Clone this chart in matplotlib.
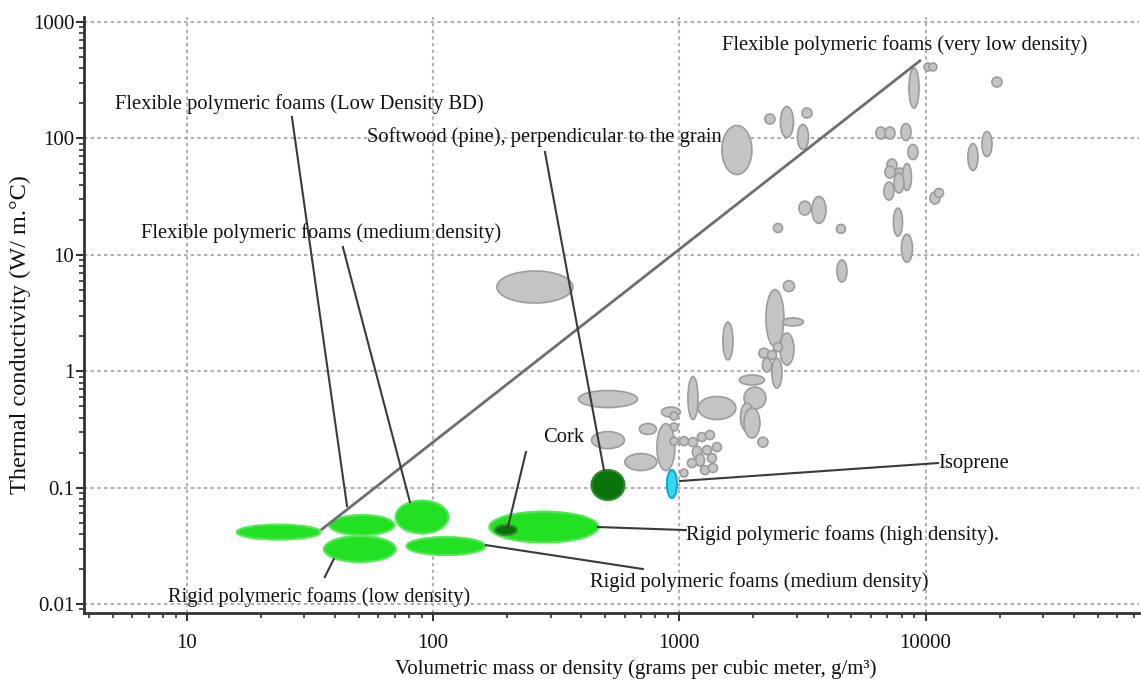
import numpy as np
import matplotlib
matplotlib.use("Agg")
import matplotlib.pyplot as plt
from matplotlib.patches import Ellipse
from matplotlib.ticker import FixedLocator, FixedFormatter, LogLocator, NullFormatter

plt.rcParams['font.family'] = ['Liberation Serif', 'DejaVu Serif']

# ---------------- data ----------------
x_ticks = [10, 100, 1000, 10000]
x_tick_labels = ["10", "100", "1000", "10000"]
y_ticks = [0.01, 0.1, 1, 10, 100, 1000]
y_tick_labels = ["0.01", "0.1", "1", "10", "100", "1000"]

# other materials (grey): centre density, centre conductivity, spread in decades
gray_density = [259, 4575, 2787, 2445, 2893, 1575, 2735, 2515, 2206, 2378,
                2269, 2491, 1972, 1136, 513, 1421, 2028, 1882, 1972, 2185,
                513, 745, 924, 951, 951, 882, 951, 1044, 698, 1044,
                1136, 1235, 1331, 1421, 1179, 1294, 1213, 1356, 1271, 1369,
                1125, 10226, 10715, 19498, 8974, 2333, 3299, 2735, 3177, 1713,
                6587, 7169, 8326, 8889, 17758, 15574, 7304, 7169, 7870, 8403,
                7796, 7101, 10919, 11335, 3236, 3690, 2515, 4532, 7724, 8403]
gray_conductivity = [5.29, 7.26, 5.39, 2.86, 2.65, 1.82, 1.55, 1.61, 1.43, 1.38,
                     1.13, 0.965, 0.840, 0.588, 0.577, 0.483, 0.588, 0.404, 0.359, 0.246,
                     0.256, 0.319, 0.446, 0.412, 0.332, 0.223, 0.251, 0.1335, 0.166, 0.251,
                     0.246, 0.272, 0.283, 0.223, 0.202, 0.210, 0.1726, 0.1796, 0.1416, 0.1474,
                     0.1627, 410.7, 410.7, 305, 271, 146.8, 165.3, 138.3, 102.8, 79.5,
                     111.3, 111.3, 113.5, 76.4, 89.5, 69.2, 59.1, 51.4, 50.4, 46.6,
                     41.4, 35.3, 30.8, 34.0, 25.2, 24.3, 17.0, 16.7, 19.1, 11.4]
gray_dspan = [0.309, 0.041, 0.045, 0.073, 0.085, 0.041, 0.057, 0.037, 0.041, 0.037,
              0.037, 0.041, 0.102, 0.041, 0.240, 0.154, 0.089, 0.053, 0.065, 0.041,
              0.134, 0.069, 0.077, 0.032, 0.032, 0.073, 0.032, 0.032, 0.130, 0.037,
              0.037, 0.037, 0.037, 0.037, 0.037, 0.037, 0.037, 0.037, 0.037, 0.037,
              0.037, 0.032, 0.032, 0.041, 0.041, 0.041, 0.041, 0.053, 0.045, 0.122,
              0.041, 0.041, 0.041, 0.041, 0.041, 0.041, 0.041, 0.041, 0.041, 0.037,
              0.041, 0.041, 0.041, 0.037, 0.049, 0.057, 0.037, 0.037, 0.037, 0.045]
gray_kspan = [0.275, 0.189, 0.094, 0.490, 0.069, 0.326, 0.275, 0.077, 0.086, 0.077,
              0.120, 0.258, 0.086, 0.369, 0.146, 0.198, 0.189, 0.241, 0.258, 0.086,
              0.146, 0.094, 0.086, 0.069, 0.069, 0.404, 0.069, 0.069, 0.146, 0.077,
              0.077, 0.077, 0.077, 0.077, 0.103, 0.077, 0.103, 0.077, 0.077, 0.077,
              0.077, 0.069, 0.069, 0.086, 0.344, 0.086, 0.086, 0.266, 0.215, 0.421,
              0.103, 0.103, 0.146, 0.129, 0.215, 0.232, 0.103, 0.103, 0.086, 0.232,
              0.172, 0.155, 0.103, 0.077, 0.120, 0.232, 0.077, 0.077, 0.241, 0.241]

# highlighted materials
hl_names = ["flex_vlow", "flex_low", "rigid_low", "flex_med", "rigid_med",
            "rigid_high", "cork", "softwood", "isoprene"]
hl_density = [23.6, 51.4, 50.4, 90.1, 112.7, 281.8, 197.6, 513, 933]
hl_conductivity = [0.0415, 0.0477, 0.0297, 0.0559, 0.0315, 0.0459, 0.0432, 0.1053, 0.1074]
hl_dspan = [0.341, 0.264, 0.292, 0.215, 0.321, 0.443, 0.089, 0.134, 0.041]
hl_kspan = [0.129, 0.172, 0.223, 0.283, 0.155, 0.266, 0.086, 0.258, 0.241]
hl_kind = ["foam", "foam", "foam", "foam", "foam", "foam", "cork", "wood", "iso"]

# diagonal guide line (very low density flexible foams)
diag_density = [35.0, 9580]
diag_conductivity = [0.0432, 471.6]

# labels: text, text position (density, conductivity), leader start, leader end
labels = ["Flexible polymeric foams (very low density)",
          "Flexible polymeric foams (Low Density BD)",
          "Softwood (pine), perpendicular to the grain",
          "Flexible polymeric foams (medium density)",
          "Cork",
          "Isoprene",
          "Rigid polymeric foams (high density).",
          "Rigid polymeric foams (medium density)",
          "Rigid polymeric foams (low density)"]
label_density = [1489, 5.10, 53.8, 6.51, 279.3, 11229, 1063, 433.5, 8.37]
label_conductivity = [634.6, 197.5, 102.8, 15.39, 0.272, 0.1627, 0.0392, 0.01545, 0.01148]
leader_d0 = [None, 26.7, 284.5, 43.0, 238.2, 1006, 467, 163.8, 36.3]
leader_k0 = [None, 152.7, 76.4, 11.67, 0.202, 0.114, 0.0459, 0.0321, 0.01706]
leader_d1 = [None, 44.7, 494, 80.5, 201.3, 11229, 1063, 711, 39.5]
leader_k1 = [None, 0.0695, 0.1416, 0.0752, 0.0459, 0.1627, 0.0432, 0.0200, 0.02435]

# ---------------- figure ----------------
fig = plt.figure(figsize=(11.41, 6.84), dpi=100)
ax = fig.add_axes([84/1141, 71/684, 1055/1141, 596/684])
ax.set_xscale('log')
ax.set_yscale('log')
ax.set_xlim(3.82, 73600)
ax.set_ylim(0.00838, 1104)

ax.grid(False)
for v in x_ticks:
    ax.axvline(v, color='#b0b0b0', lw=1.5, ls=(0, (1.6, 1.6)), zorder=0)
for v in y_ticks:
    ax.axhline(v, color='#b0b0b0', lw=1.5, ls=(0, (1.6, 1.6)), zorder=0)

logtrans = ax.transLimits + ax.transAxes  # coordinates in decades

for d, k, wd, hk in zip(gray_density, gray_conductivity, gray_dspan, gray_kspan):
    ax.add_patch(Ellipse((np.log10(d), np.log10(k)), wd, hk, transform=logtrans,
                         facecolor='#c4c4c4', edgecolor='#9c9c9c', lw=1.2, zorder=2))

styles = {"foam": ('#22e022', '#55e855'),
          "cork": ('#0b6e0b', '#2f8f2f'),
          "wood": ('#0a730a', '#2c8c2c'),
          "iso": ('#30d8f2', '#1aa6c6')}
for d, k, wd, hk, kind in zip(hl_density, hl_conductivity, hl_dspan, hl_kspan, hl_kind):
    fc, ec = styles[kind]
    ax.add_patch(Ellipse((np.log10(d), np.log10(k)), wd, hk, transform=logtrans,
                         facecolor=fc, edgecolor=ec, lw=1.5, zorder=3))

ax.plot(diag_density, diag_conductivity, color='#6e6e6e', lw=2, zorder=4,
        solid_capstyle='butt')

for t, ld, lk, d0, k0, d1, k1 in zip(labels, label_density, label_conductivity,
                                     leader_d0, leader_k0, leader_d1, leader_k1):
    if d0 is not None:
        ax.plot([d0, d1], [k0, k1], color='#3a3a3a', lw=1.5, zorder=5)
    ax.text(ld, lk, t, ha='left', va='center', fontsize=14.8, color='#111111',
            zorder=6)

# axes styling
for s in ['top', 'right']:
    ax.spines[s].set_visible(False)
for s in ['left', 'bottom']:
    ax.spines[s].set_color('#333333')
    ax.spines[s].set_linewidth(2)

ax.xaxis.set_major_locator(FixedLocator(x_ticks))
ax.xaxis.set_major_formatter(FixedFormatter(x_tick_labels))
ax.yaxis.set_major_locator(FixedLocator(y_ticks))
ax.yaxis.set_major_formatter(FixedFormatter(y_tick_labels))
ax.xaxis.set_minor_locator(LogLocator(base=10, subs=np.arange(2, 10)))
ax.yaxis.set_minor_locator(LogLocator(base=10, subs=np.arange(2, 10)))
ax.xaxis.set_minor_formatter(NullFormatter())
ax.yaxis.set_minor_formatter(NullFormatter())
ax.tick_params(axis='both', which='major', direction='out', length=6, width=1.5,
               color='#333333', labelsize=15, labelcolor='#111111')
ax.tick_params(axis='both', which='minor', direction='out', length=3.5, width=1.2,
               color='#333333')
ax.tick_params(axis='x', which='major', pad=9)
ax.tick_params(axis='y', which='major', pad=1)

fig.text(636/1141, 1 - 669/684,
         "Volumetric mass or density (grams per cubic meter, g/m\u00b3)",
         ha='center', va='center', fontsize=15, color='#111111')
fig.text(20/1141, 1 - 335/684, "Thermal conductivity (W/ m.\u00b0C)",
         ha='center', va='center', rotation=90, fontsize=17.5, color='#111111')

fig.savefig("out.png", dpi=100, facecolor='white')
